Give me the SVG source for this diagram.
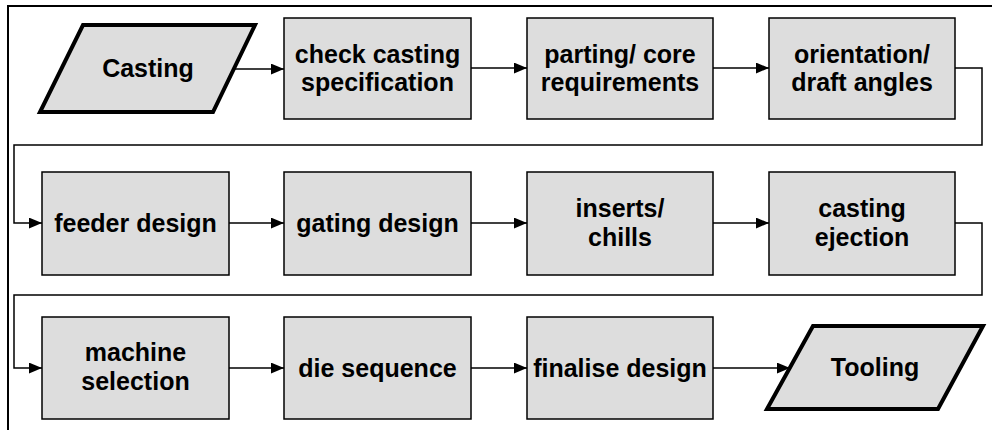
<svg xmlns="http://www.w3.org/2000/svg" width="992" height="430" viewBox="0 0 992 430">
<defs>
<style>
.box{fill:#dddddd;stroke:#000;stroke-width:1.5}
.io{fill:#dddddd;stroke:#000;stroke-width:4;stroke-linejoin:miter}
.t{font-family:"Liberation Sans",Arial,sans-serif;font-weight:bold;font-size:25px;fill:#000;text-anchor:middle}
.c{fill:none;stroke:#000;stroke-width:1.5}
</style>
<marker id="ah" viewBox="0 0 12 10" refX="12" refY="5" markerWidth="13" markerHeight="11" markerUnits="userSpaceOnUse" orient="auto">
<path d="M0,0 L12,5 L0,10 Z" fill="#000"/>
</marker>
</defs>
<rect x="0" y="0" width="992" height="430" fill="#fff"/>
<rect x="8" y="6" width="1000" height="500" fill="none" stroke="#000" stroke-width="2"/>
<g id="connectors">
<path class="c" d="M234,69 H284" marker-end="url(#ah)"/>
<path class="c" d="M471,68 H527" marker-end="url(#ah)"/>
<path class="c" d="M712,68 H769" marker-end="url(#ah)"/>
<path class="c" d="M955,68 H982 V145 H14 V223 H42" marker-end="url(#ah)"/>
<path class="c" d="M229,223 H284" marker-end="url(#ah)"/>
<path class="c" d="M471,223 H527" marker-end="url(#ah)"/>
<path class="c" d="M712,223 H769" marker-end="url(#ah)"/>
<path class="c" d="M955,223 H982 V295 H14 V368 H42" marker-end="url(#ah)"/>
<path class="c" d="M229,368 H284" marker-end="url(#ah)"/>
<path class="c" d="M471,368 H527" marker-end="url(#ah)"/>
<path class="c" d="M712,368 H790" marker-end="url(#ah)"/>
</g>
<g id="casting">
<polygon class="io" points="83,25 255,25 213,112 40,112"/>
<text class="t" x="148" y="77">Casting</text>
</g>
<g id="check">
<rect class="box" x="284" y="18" width="187" height="101"/>
<text class="t" x="377.5" y="63">check casting</text>
<text class="t" x="377.5" y="91">specification</text>
</g>
<g id="parting">
<rect class="box" x="527" y="18" width="186" height="101"/>
<text class="t" x="620" y="63">parting/ core</text>
<text class="t" x="620" y="91">requirements</text>
</g>
<g id="orientation">
<rect class="box" x="769" y="18" width="186" height="101"/>
<text class="t" x="862" y="63">orientation/</text>
<text class="t" x="862" y="91">draft angles</text>
</g>
<g id="feeder">
<rect class="box" x="42" y="172" width="187" height="103"/>
<text class="t" x="135.5" y="232">feeder design</text>
</g>
<g id="gating">
<rect class="box" x="284" y="172" width="187" height="103"/>
<text class="t" x="377.5" y="232">gating design</text>
</g>
<g id="inserts">
<rect class="box" x="527" y="172" width="186" height="103"/>
<text class="t" x="620" y="217">inserts/</text>
<text class="t" x="620" y="246">chills</text>
</g>
<g id="ejection">
<rect class="box" x="769" y="172" width="186" height="103"/>
<text class="t" x="862" y="217">casting</text>
<text class="t" x="862" y="246">ejection</text>
</g>
<g id="machine">
<rect class="box" x="42" y="317" width="187" height="102"/>
<text class="t" x="135.5" y="361">machine</text>
<text class="t" x="135.5" y="390">selection</text>
</g>
<g id="die">
<rect class="box" x="284" y="317" width="187" height="102"/>
<text class="t" x="377.5" y="377">die sequence</text>
</g>
<g id="finalise">
<rect class="box" x="527" y="317" width="186" height="102"/>
<text class="t" x="620" y="377">finalise design</text>
</g>
<g id="tooling">
<polygon class="io" points="813,326 983,326 938,409 767,409"/>
<text class="t" x="875" y="376">Tooling</text>
</g>
</svg>
